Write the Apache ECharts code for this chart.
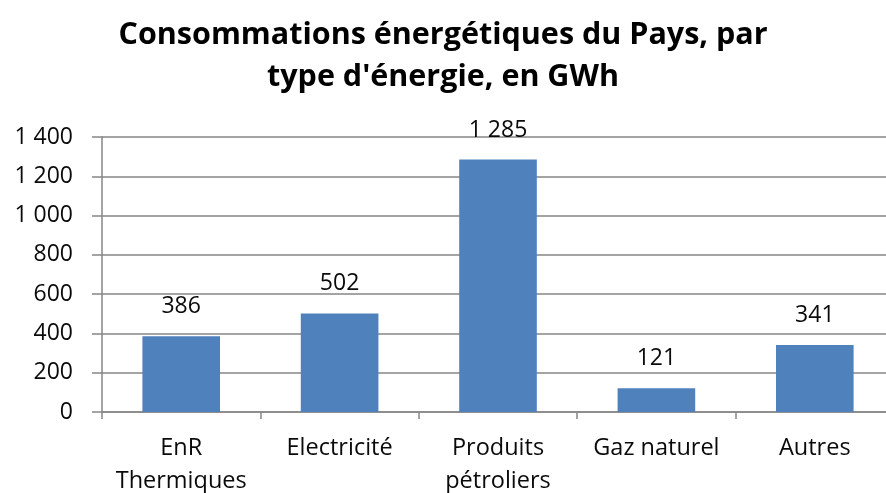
<!DOCTYPE html>
<html>
<head>
<meta charset="utf-8">
<script src="https://cdn.jsdelivr.net/npm/echarts@6/dist/echarts.min.js"></script>
<style>
html, body { margin: 0; padding: 0; background: #fff; }
#chart { width: 886px; height: 493px; }
</style>
</head>
<body>
<div id="chart"></div>
<script>
// données
var categories = ['EnR\nThermiques', 'Electricité', 'Produits\npétroliers', 'Gaz naturel', 'Autres'];
var valeurs = [386, 502, 1285, 121, 341];
var yTicks = [0, 200, 400, 600, 800, 1000, 1200, 1400];

var FONT = 'Open Sans';

// séparateur de milliers avec espace (format français)
function fmt(v) {
    return String(v).replace(/\B(?=(\d{3})+(?!\d))/g, ' ');
}

var chart = echarts.init(document.getElementById('chart'));
var option = {
    backgroundColor: '#fff',
    animation: false,
    title: {
        text: 'Consommations énergétiques du Pays, par\ntype d\'énergie, en GWh',
        left: 'center',
        top: 9,
        textStyle: {
            fontFamily: FONT,
            fontWeight: 'bold',
            fontSize: 30.5,
            lineHeight: 42,
            color: '#000'
        }
    },
    grid: {
        left: 102,
        right: -8,
        top: 137,
        bottom: 81,
        outerBoundsMode: 'none'
    },
    xAxis: {
        type: 'category',
        data: categories,
        axisLine: { lineStyle: { color: '#868686', width: 1.5 } },
        axisTick: { show: true, length: 7, lineStyle: { color: '#868686', width: 1.5 } },
        axisLabel: {
            interval: 0,
            margin: 20,
            fontFamily: FONT,
            fontSize: 23.5,
            lineHeight: 33,
            color: '#0a0a0a'
        }
    },
    yAxis: {
        type: 'value',
        min: yTicks[0],
        max: yTicks[yTicks.length - 1],
        interval: 200,
        axisLine: { show: true, lineStyle: { color: '#868686', width: 1.5 } },
        axisTick: { show: true, length: 10, inside: false, lineStyle: { color: '#868686', width: 1.5 } },
        splitLine: { show: true, lineStyle: { color: '#868686', width: 1.5 } },
        axisLabel: {
            margin: 29,
            fontFamily: FONT,
            fontSize: 23,
            color: '#0a0a0a',
            formatter: fmt
        }
    },
    series: [{
        type: 'bar',
        data: valeurs,
        barCategoryGap: '51%',
        itemStyle: { color: '#4F81BD' },
        label: {
            show: true,
            position: 'top',
            distance: 18,
            fontFamily: FONT,
            fontSize: 23,
            color: '#0a0a0a',
            formatter: function (p) { return fmt(p.value); }
        }
    }]
};
chart.setOption(option);
</script>
</body>
</html>
